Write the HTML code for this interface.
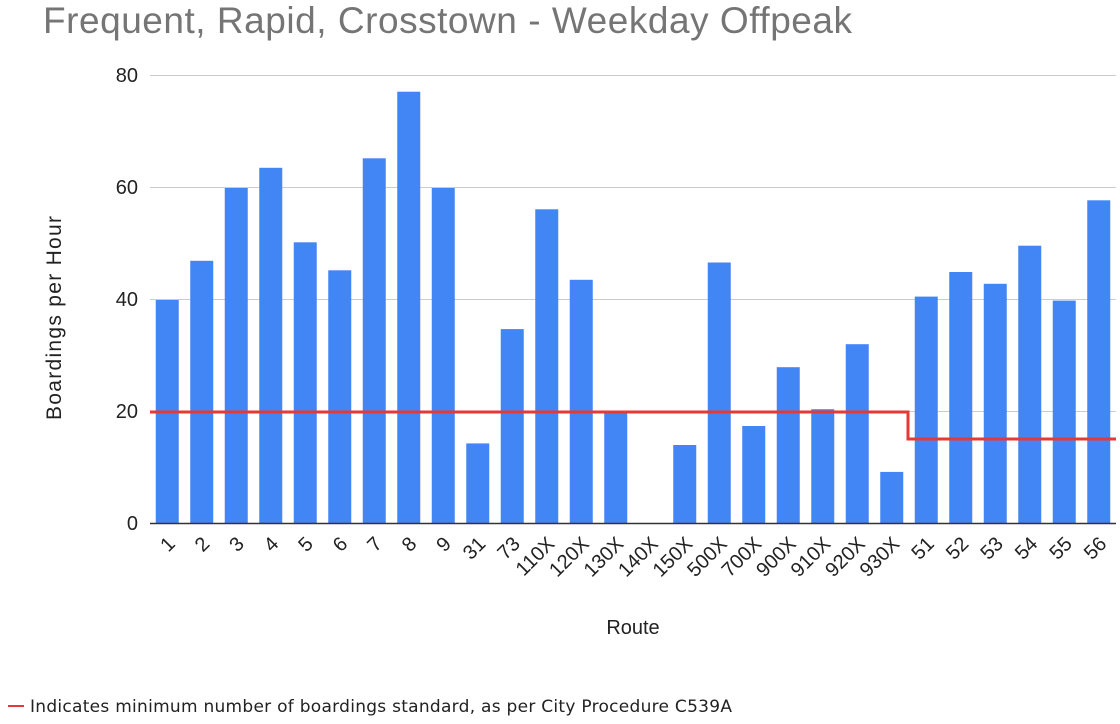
<!DOCTYPE html>
<html><head><meta charset="utf-8"><style>body{margin:0;background:#fff}svg{display:block}</style></head>
<body>
<svg width="1120" height="724" xmlns="http://www.w3.org/2000/svg" font-family="Liberation Sans, Arial, sans-serif">
<text x="43" y="33" font-size="37" fill="#757575" textLength="809">Frequent, Rapid, Crosstown - Weekday Offpeak</text>
<g stroke="#cccccc" stroke-width="1">
<line x1="150" x2="1116" y1="75.5" y2="75.5"/><line x1="150" x2="1116" y1="187.5" y2="187.5"/>
<line x1="150" x2="1116" y1="299.5" y2="299.5"/><line x1="150" x2="1116" y1="411.5" y2="411.5"/>
</g>
<g font-size="20" fill="#222" text-anchor="end">
<text x="138" y="82">80</text><text x="138" y="194">60</text><text x="138" y="306">40</text><text x="138" y="418">20</text><text x="138" y="530">0</text>
</g>
<text transform="translate(61,318) rotate(-90)" font-size="21" fill="#222" text-anchor="middle" textLength="204">Boardings per Hour</text>
<text x="633" y="634" font-size="20" fill="#222" text-anchor="middle">Route</text>
<g fill="#4285f4">
<rect x="155.75" y="300" width="23" height="223"/>
<rect x="190.25" y="260.8" width="23" height="262.2"/>
<rect x="224.75" y="188" width="23" height="335"/>
<rect x="259.25" y="167.8" width="23" height="355.2"/>
<rect x="293.75" y="242.3" width="23" height="280.7"/>
<rect x="328.25" y="270.3" width="23" height="252.7"/>
<rect x="362.75" y="158.3" width="23" height="364.7"/>
<rect x="397.25" y="91.7" width="23" height="431.3"/>
<rect x="431.75" y="188" width="23" height="335"/>
<rect x="466.25" y="443.4" width="23" height="79.6"/>
<rect x="500.75" y="329.1" width="23" height="193.9"/>
<rect x="535.25" y="209.3" width="23" height="313.7"/>
<rect x="569.75" y="279.8" width="23" height="243.2"/>
<rect x="604.25" y="410.9" width="23" height="112.1"/>
<rect x="673.25" y="445" width="23" height="78"/>
<rect x="707.75" y="262.5" width="23" height="260.5"/>
<rect x="742.25" y="426" width="23" height="97"/>
<rect x="776.75" y="367.2" width="23" height="155.8"/>
<rect x="811.25" y="409.2" width="23" height="113.8"/>
<rect x="845.75" y="344.2" width="23" height="178.8"/>
<rect x="880.25" y="471.9" width="23" height="51.1"/>
<rect x="914.75" y="296.6" width="23" height="226.4"/>
<rect x="949.25" y="272" width="23" height="251"/>
<rect x="983.75" y="283.8" width="23" height="239.2"/>
<rect x="1018.25" y="245.7" width="23" height="277.3"/>
<rect x="1052.75" y="300.6" width="23" height="222.4"/>
<rect x="1087.25" y="200.3" width="23" height="322.7"/>
</g>
<line x1="150" x2="1116" y1="523.5" y2="523.5" stroke="#333" stroke-width="1.5"/>
<polyline points="150,412 908,412 908,439 1116,439" fill="none" stroke="#e53935" stroke-width="3"/>
<g font-size="20" fill="#222" text-anchor="end">
<text transform="translate(176.25,545) rotate(-45)">1</text>
<text transform="translate(210.75,545) rotate(-45)">2</text>
<text transform="translate(245.25,545) rotate(-45)">3</text>
<text transform="translate(279.75,545) rotate(-45)">4</text>
<text transform="translate(314.25,545) rotate(-45)">5</text>
<text transform="translate(348.75,545) rotate(-45)">6</text>
<text transform="translate(383.25,545) rotate(-45)">7</text>
<text transform="translate(417.75,545) rotate(-45)">8</text>
<text transform="translate(452.25,545) rotate(-45)">9</text>
<text transform="translate(486.75,545) rotate(-45)">31</text>
<text transform="translate(521.25,545) rotate(-45)">73</text>
<text transform="translate(555.75,545) rotate(-45)">110X</text>
<text transform="translate(590.25,545) rotate(-45)">120X</text>
<text transform="translate(624.75,545) rotate(-45)">130X</text>
<text transform="translate(659.25,545) rotate(-45)">140X</text>
<text transform="translate(693.75,545) rotate(-45)">150X</text>
<text transform="translate(728.25,545) rotate(-45)">500X</text>
<text transform="translate(762.75,545) rotate(-45)">700X</text>
<text transform="translate(797.25,545) rotate(-45)">900X</text>
<text transform="translate(831.75,545) rotate(-45)">910X</text>
<text transform="translate(866.25,545) rotate(-45)">920X</text>
<text transform="translate(900.75,545) rotate(-45)">930X</text>
<text transform="translate(935.25,545) rotate(-45)">51</text>
<text transform="translate(969.75,545) rotate(-45)">52</text>
<text transform="translate(1004.25,545) rotate(-45)">53</text>
<text transform="translate(1038.75,545) rotate(-45)">54</text>
<text transform="translate(1073.25,545) rotate(-45)">55</text>
<text transform="translate(1107.75,545) rotate(-45)">56</text>
</g>
<line x1="8" x2="24" y1="706" y2="706" stroke="#e53935" stroke-width="2"/>
<text x="30" y="712" font-size="17" fill="#222" font-family="DejaVu Sans, sans-serif" textLength="702">Indicates minimum number of boardings standard, as per City Procedure C539A</text>
</svg>
</body></html>
